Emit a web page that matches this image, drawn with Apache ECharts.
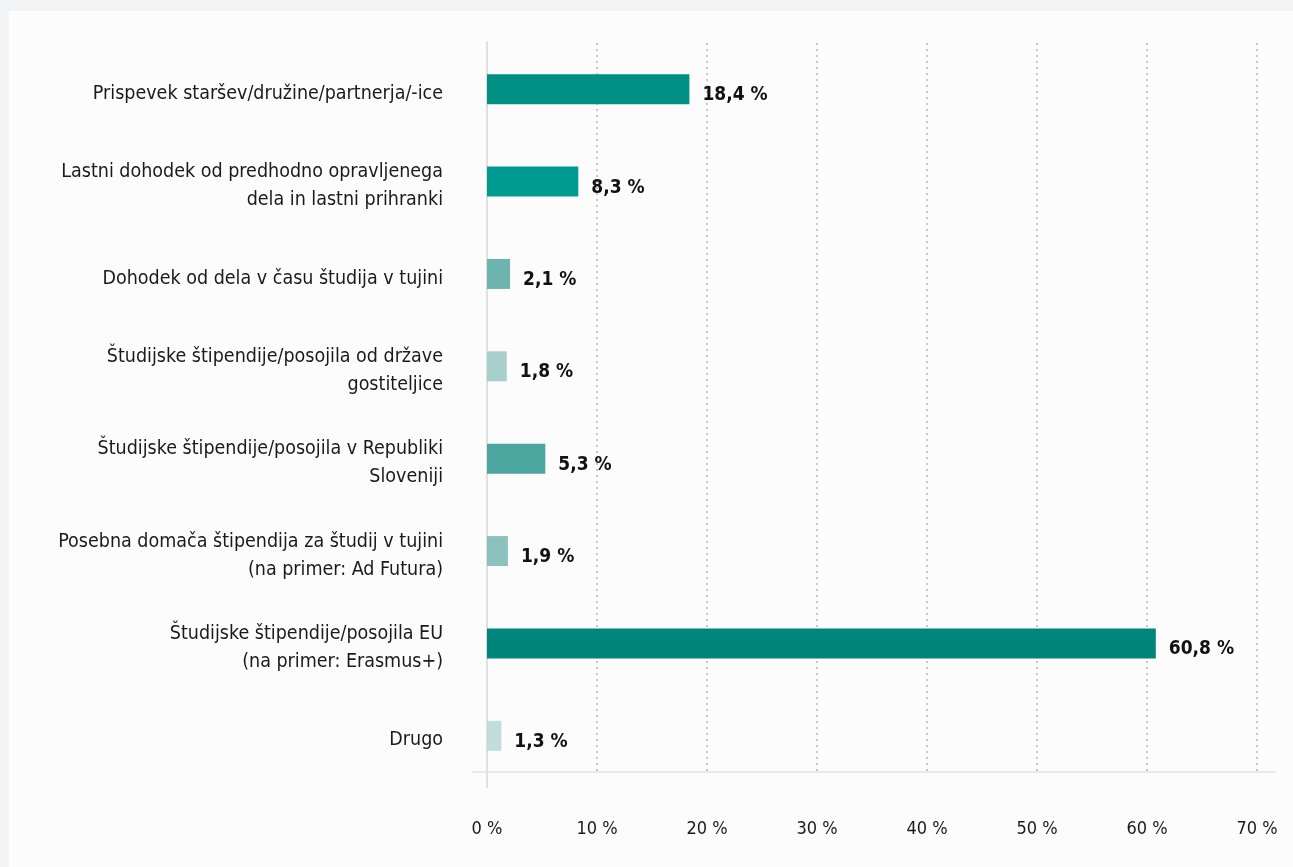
<!DOCTYPE html>
<html><head><meta charset="utf-8">
<script src="https://cdn.jsdelivr.net/npm/echarts@6/dist/echarts.min.js"></script>
<style>
html,body{margin:0;padding:0;background:#f2f3f5;width:1293px;height:867px;overflow:hidden;}
#panel{position:absolute;left:9px;top:11px;width:1284px;height:856px;background:#fcfcfc;}
#chart{position:absolute;left:0;top:0;width:1293px;height:867px;}
</style></head>
<body><div id="panel"></div><div id="chart"></div>
<script>
const categories = [
  "Prispevek staršev/družine/partnerja/-ice",
  "Lastni dohodek od predhodno opravljenega\ndela in lastni prihranki",
  "Dohodek od dela v času študija v tujini",
  "Študijske štipendije/posojila od države\ngostiteljice",
  "Študijske štipendije/posojila v Republiki\nSloveniji",
  "Posebna domača štipendija za študij v tujini\n(na primer: Ad Futura)",
  "Študijske štipendije/posojila EU\n(na primer: Erasmus+)",
  "Drugo"
];
const values = [18.4, 8.3, 2.1, 1.8, 5.3, 1.9, 60.8, 1.3];
const barColors = ["#009084", "#009b90", "#6db3ae", "#a8cfcc", "#4aa69f", "#8cc2bd", "#00857a", "#c2dcdb"];
const xTicks = [0, 10, 20, 30, 40, 50, 60, 70];

const FONT = "'DejaVu Sans Condensed', sans-serif";
const XMIN = xTicks[0], XMAX = xTicks[xTicks.length - 1];
const chart = echarts.init(document.getElementById('chart'), null, {renderer: 'canvas'});
const hiddenAxis = (g) => ({type: 'value', gridIndex: g, show: false});
chart.setOption({
  animation: false,
  backgroundColor: 'transparent',
  grid: [
    {left: 487, width: 770, top: 43, height: 739},   // bars + labels
    {left: 472, width: 803, top: 43, height: 729},   // bottom baseline
    {left: 487, width: 770, top: 43, height: 729},   // dotted grid lines
    {left: 487, width: 770, top: 42, height: 745}    // vertical zero line
  ],
  xAxis: [{
    type: 'value', gridIndex: 0, min: XMIN, max: XMAX, interval: 10,
    axisLine: {show: false}, axisTick: {show: false}, splitLine: {show: false},
    axisLabel: {margin: 38, fontFamily: FONT, fontSize: 18, color: '#1a1a1a',
      formatter: v => v + ' %'}
  }, {
    type: 'value', gridIndex: 1, min: 0, max: 1, position: 'bottom',
    axisLine: {show: true, lineStyle: {color: '#e2e2e2', width: 1.5}},
    axisTick: {show: false}, axisLabel: {show: false}, splitLine: {show: false}
  }, {
    type: 'value', gridIndex: 2, min: XMIN, max: XMAX, interval: 10,
    axisLine: {show: false}, axisTick: {show: false}, axisLabel: {show: false},
    splitLine: {show: true, lineStyle: {type: [2, 4], color: '#b5b5b5', width: 1.5}}
  }, hiddenAxis(3)],
  yAxis: [{
    type: 'category', gridIndex: 0, data: categories, inverse: true,
    axisLine: {show: false}, axisTick: {show: false},
    axisLabel: {margin: 44, fontFamily: FONT, fontSize: 19.5, color: '#1a1a1a', lineHeight: 28,
      align: 'right', formatter: v => '{sp| }\n' + v,
      rich: {sp: {fontSize: 1, lineHeight: 9}}}
  }, hiddenAxis(1), hiddenAxis(2), {
    type: 'value', gridIndex: 3, min: 0, max: 1,
    axisLine: {show: true, lineStyle: {color: '#e0e0e0', width: 2}},
    axisTick: {show: false}, axisLabel: {show: false}, splitLine: {show: false}
  }],
  series: [{
    type: 'bar', xAxisIndex: 0, yAxisIndex: 0,
    data: values.map((v, i) => ({value: v, itemStyle: {color: barColors[i]}})),
    barWidth: 30,
    label: {show: true, position: 'right', distance: 13, offset: [0, 6], fontFamily: FONT, fontWeight: 'bold',
      fontSize: 19, color: '#111',
      formatter: p => String(p.value).replace('.', ',') + ' %'}
  }]
});
</script></body></html>
